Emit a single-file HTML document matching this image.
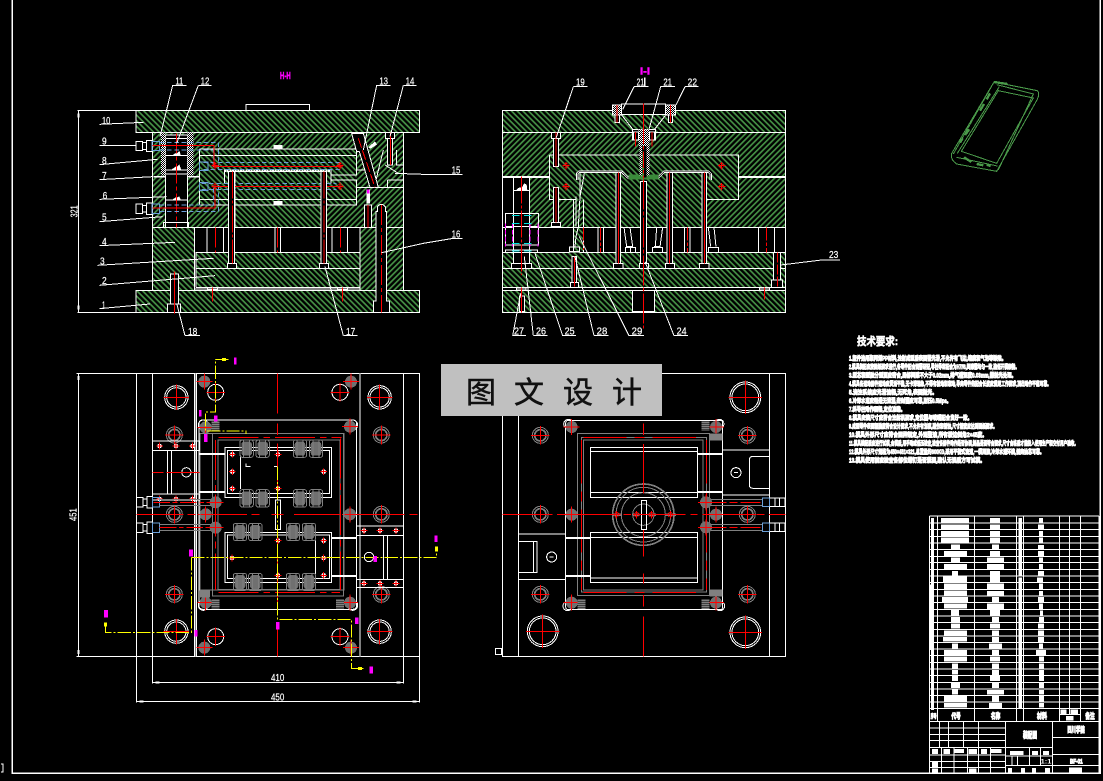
<!DOCTYPE html>
<html><head><meta charset="utf-8"><style>
html,body{margin:0;padding:0;background:#000}
svg{display:block}
.l{fill:none;stroke:#fff;stroke-width:3}
.g{fill:none;stroke:#808080;stroke-width:3}
.r{fill:none;stroke:#f00;stroke-width:3}
.rd{fill:none;stroke:#f00;stroke-width:3;stroke-dasharray:60 9 12 9}
.b{fill:none;stroke:#6a9fd8;stroke-width:3}
.bd{fill:none;stroke:#6a9fd8;stroke-width:3;stroke-dasharray:14 8}
.y{fill:none;stroke:#ff0;stroke-width:3;stroke-dasharray:40 6 6 6}
.k{fill:#000;stroke:#fff;stroke-width:3}
text{font-family:"Liberation Sans","Noto Sans CJK SC",sans-serif}
.t{fill:#fff;font-size:30px;stroke:#fff;stroke-width:.6px}
.m{fill:#f0f;font-size:30px;font-weight:bold;stroke:#f0f;stroke-width:1.5px}
</style></head><body>
<svg width="1103" height="781" viewBox="0 0 1103 781" xmlns="http://www.w3.org/2000/svg" shape-rendering="crispEdges">
<defs>
<pattern id="h1" width="12" height="12" patternUnits="userSpaceOnUse" patternTransform="rotate(45)"><rect width="12" height="12" fill="#000"/><rect width="12" height="5" fill="#469246" shape-rendering="auto"/></pattern>
<pattern id="h2" width="12" height="12" patternUnits="userSpaceOnUse" patternTransform="rotate(-45)"><rect width="12" height="12" fill="#000"/><rect width="12" height="5" fill="#469246" shape-rendering="auto"/></pattern>
<pattern id="md" width="6" height="6" patternUnits="userSpaceOnUse"><rect width="6" height="6" fill="#000"/><rect width="3" height="3" fill="#fff"/><rect x="3" y="3" width="3" height="3" fill="#fff"/></pattern>
<g id="gb"><circle r="18" fill="#707070"/><path class="r" d="M-24 0H24M0-24V24"/></g>
<g id="ob"><circle r="24" fill="none" stroke="#808080" stroke-width="3"/><circle r="17" fill="none" stroke="#808080" stroke-width="5"/><path class="r" d="M-28 0H28M0-28V28"/></g>
<g id="big"><circle r="35" class="l"/><circle r="29" class="l"/><path class="r" d="M-38 0H38M0-38V38"/></g>
<g id="big2"><circle r="46" class="l"/><circle r="40" class="l"/><path class="r" d="M-50 0H50M0-50V50"/></g>
<g id="mid"><circle r="24" class="l"/><path class="r" d="M-28 0H28M0-28V28"/></g>
<g id="sc"><circle r="7" fill="#fff"/><path class="r" d="M-10 0H10M0-10V10"/></g>
<g id="cx"><path class="r" d="M-11 0H11M0-11V11"/><circle r="7" fill="none" stroke="#f00" stroke-width="2"/></g>
<g id="gate"><rect x="-16" y="-21" width="32" height="42" rx="9" fill="#707070"/><rect x="-20" y="-26" width="40" height="52" rx="7" class="g"/><path class="g" d="M-9 -26V26M9 -26V26"/></g>
<g id="noz"><rect x="0" y="0" width="20" height="28" class="k"/><rect x="20" y="4" width="12" height="20" class="k"/><rect x="32" y="-3" width="16" height="34" class="k"/><rect x="48" y="0" width="22" height="28" class="b"/></g>
<g id="stk"><rect x="-12" y="-14" width="24" height="28" fill="#808080"/><path d="M-12-8H12M-12-2H12M-12 4H12M-12 10H12" stroke="#000" stroke-width="2"/></g>
</defs>
<rect width="1103" height="781" fill="#000"/>
<g>
<path d="M12 0V773H1100V0" fill="none" stroke="#fff" stroke-width="1.5"/>
<path d="M1 764h2v8H1" fill="none" stroke="#fff"/>
</g>

<!-- VIEW 1 -->
<g transform="translate(70 70) scale(.33333)">
<rect x="198" y="122" width="851" height="65" fill="url(#h1)"/>
<rect x="198" y="661" width="851" height="66" fill="url(#h1)"/>
<rect x="247" y="187" width="753" height="285" fill="url(#h2)"/>
<rect x="388" y="237" width="472" height="168" fill="url(#h1)"/>
<rect x="495" y="305" width="258" height="167" fill="url(#h1)"/>
<rect x="247" y="472" width="126" height="189" fill="url(#h1)"/>
<rect x="870" y="472" width="130" height="189" fill="url(#h2)"/>
<rect x="378" y="547" width="492" height="48" fill="url(#h1)"/>
<rect x="378" y="595" width="492" height="58" fill="url(#h1)"/>
<path class="l" d="M198 122H1049V187H198ZM198 661H1049V727H198ZM247 187V661M1000 187V661M247 472H1000M373 472V661M378 653V547H870M378 595H870M378 653H870M870 472V661M373 657H870"/>
<path class="l" d="M528 122V104H718V122"/>
<path d="M411 472V547M461 472V547M615 472V547M632 472V547M786 472V547M833 472V547" class="l"/>
<path class="rd" d="M436 472V547M622 472V547M811 472V547"/>
<rect x="412" y="653" width="30" height="7" class="l"/><rect x="802" y="653" width="30" height="7" class="l"/>
<path d="M427 652V695M817 652V695" stroke="#f00" stroke-width="3"/>
<!-- insert -->
<path class="l" d="M388 237H860V315H785M388 257H860M785 330H860V405H495M495 388H860M388 237V405H475M388 388H475M353 320H388"/>
<path d="M462 302H785" stroke="#fff" stroke-width="7" stroke-dasharray="6 2"/>
<path class="l" stroke-width="4" d="M464 305V340M783 305V340"/>
<path class="l" d="M495 305H753M495 305V472M753 305V472"/>
<!-- leader pin -->
<rect x="287" y="195" width="66" height="277" class="k"/>
<path class="l" d="M287 205H353M287 257H353M287 300H353M287 312H353M287 390H353M281 472V457H356V472"/>
<rect x="273" y="187" width="14" height="130" fill="url(#md)"/>
<rect x="353" y="187" width="17" height="130" fill="url(#md)"/>
<path d="M250 320H287M355 320H388" stroke="#fff" stroke-width="5"/>
<path fill="#fff" d="M305 257l12-8 4 1 7-8 5 15ZM305 298l12-8 4 1 7-8 5 15ZM305 390l12-8 4 1 7-4 5 11Z"/>
<rect x="610" y="225" width="27" height="12" fill="#fff"/><rect x="610" y="393" width="27" height="12" fill="#fff"/>
<path class="rd" d="M320 190V472"/>
<!-- cooling -->
<use href="#noz" x="198" y="214"/><use href="#noz" x="198" y="402"/>
<path class="bd" d="M269 217H445V295M269 240H430V295M269 405H430V350M269 425H445V345M400 278H810M400 298H810M395 340H800M395 358H800"/>
<rect x="388" y="276" width="26" height="26" class="b"/><rect x="388" y="337" width="26" height="24" class="b"/>
<path class="r" d="M247 227H432V290H815M247 414H435V349H820"/>
<use href="#cx" x="810" y="287"/><use href="#cx" x="810" y="349"/><use href="#cx" x="435" y="287"/><use href="#cx" x="435" y="349"/>
<!-- pins -->
<rect x="476" y="305" width="18" height="275" class="k"/><rect x="472" y="580" width="28" height="15" class="k"/>
<rect x="753" y="305" width="17" height="275" class="k"/><rect x="748" y="580" width="28" height="15" class="k"/>
<path d="M487 305V580M762 305V580" stroke="#f00" stroke-width="3" stroke-dasharray="80 6 10 6"/>
<!-- bolts -->
<rect x="301" y="612" width="24" height="90" class="k"/><rect x="293" y="702" width="38" height="25" class="k"/>
<path class="r" d="M313 605V730"/>
<rect x="946" y="187" width="28" height="18" class="k"/><rect x="952" y="205" width="16" height="80" class="k"/>
<path class="r" d="M961 187V285"/>
<path class="k" d="M922 425V410Q934 396 946 410V425H950V693H958V727H910V693H918V425Z"/>
<path class="rd" d="M934 405V727"/>
<rect x="883" y="405" width="22" height="67" class="k"/><path class="r" d="M894 405V472"/>
<rect x="889" y="358" width="11" height="42" fill="#fff"/><rect x="891" y="358" width="7" height="13" fill="#f0f"/>
<!-- slide -->
<path class="l" d="M860 300H885M860 352H1000M952 330H1000V352M952 330V352M980 240V285H1000M940 240L918 330M945 285L985 310"/>
<path class="k" d="M845 190H880L925 352H900L868 245H860Z"/>
<path d="M865 205L915 352" stroke="#f00" stroke-width="3" stroke-dasharray="30 8"/>
<path fill="#fff" d="M895 232l20-18 6 10-20 12Z"/>
<!-- labels -->
<g class="l"><path d="M308 46H350M308 46L270 200M385 46H425M385 46L320 220M920 46H962M920 46L880 240M1000 46H1040M1000 46L960 200M975 310L1060 313H1178M935 548L1060 520L1150 505H1178M88 163L220 157M88 226H198M88 284L262 268M88 329L248 320M88 388L290 380M88 455L278 440M88 527L315 517M82 586L430 565M88 646L435 617M88 716L240 702M345 797H390M345 797L320 700M820 797H862M820 797L765 590"/></g>
<text class="t" x="316" y="44" textLength="24" lengthAdjust="spacingAndGlyphs">11</text>
<text class="t" x="392" y="44" textLength="26" lengthAdjust="spacingAndGlyphs">12</text>
<text class="t" x="928" y="44" textLength="26" lengthAdjust="spacingAndGlyphs">13</text>
<text class="t" x="1007" y="44" textLength="26" lengthAdjust="spacingAndGlyphs">14</text>
<text class="t" x="1145" y="310" textLength="26" lengthAdjust="spacingAndGlyphs">15</text>
<text class="t" x="1145" y="503" textLength="26" lengthAdjust="spacingAndGlyphs">16</text>
<text class="t" x="96" y="162" textLength="25" lengthAdjust="spacingAndGlyphs">10</text>
<text class="t" x="96" y="224" textLength="14" lengthAdjust="spacingAndGlyphs">9</text>
<text class="t" x="96" y="282" textLength="14" lengthAdjust="spacingAndGlyphs">8</text>
<text class="t" x="96" y="327" textLength="14" lengthAdjust="spacingAndGlyphs">7</text>
<text class="t" x="98" y="387" textLength="14" lengthAdjust="spacingAndGlyphs">6</text>
<text class="t" x="96" y="452" textLength="14" lengthAdjust="spacingAndGlyphs">5</text>
<text class="t" x="96" y="525" textLength="14" lengthAdjust="spacingAndGlyphs">4</text>
<text class="t" x="90" y="584" textLength="14" lengthAdjust="spacingAndGlyphs">3</text>
<text class="t" x="96" y="642" textLength="14" lengthAdjust="spacingAndGlyphs">2</text>
<text class="t" x="96" y="715" textLength="10" lengthAdjust="spacingAndGlyphs">1</text>
<text class="t" x="354" y="795" textLength="28" lengthAdjust="spacingAndGlyphs">18</text>
<text class="t" x="828" y="795" textLength="28" lengthAdjust="spacingAndGlyphs">17</text>
<text class="m" x="630" y="27" textLength="32" lengthAdjust="spacingAndGlyphs">H-H</text>
<path class="l" d="M23 122H198M23 727H198M25 122V727"/>
<rect x="22" y="131" width="7" height="12" fill="#fff"/><rect x="22" y="707" width="7" height="12" fill="#fff"/>
<text class="t" transform="translate(23 442) rotate(-90)" textLength="36" lengthAdjust="spacingAndGlyphs">321</text>
</g>

<!-- VIEW 2 -->
<g transform="translate(490 60) scale(.33333)">
<rect x="38" y="152" width="849" height="65" fill="url(#h1)"/>
<rect x="38" y="217" width="849" height="135" fill="url(#h2)"/>
<rect x="118" y="352" width="769" height="150" fill="url(#h2)"/>
<rect x="178" y="285" width="568" height="133" fill="url(#h1)"/>
<rect x="280" y="338" width="370" height="164" fill="url(#h1)"/>
<rect x="38" y="577" width="849" height="48" fill="url(#h1)"/>
<rect x="38" y="625" width="849" height="58" fill="url(#h1)"/>
<rect x="38" y="691" width="849" height="66" fill="url(#h1)"/>
<rect x="250" y="502" width="30" height="90" fill="url(#h1)"/>
<path class="l" d="M38 152H887V757H38ZM38 217H887M178 285H746V418H650M178 285V418H260M38 502H887M38 577H887M38 625H887M38 683H887M38 691H887"/>
<path d="M38 351H178M746 351H887" stroke="#fff" stroke-width="5"/>
<rect x="427" y="692" width="67" height="63" class="k"/>
<path class="l" d="M650 418V502M280 418V502M250 418V577"/>
<!-- part outline -->
<path fill="none" stroke="#fff" stroke-width="7" d="M262 360V340L268 335H395L413 352H505L522 335H655L662 342V360"/>
<path fill="none" stroke="#000" stroke-width="2" d="M262 360V340L268 335H395L413 352H505L522 335H655L662 342V360"/>
<path class="l" d="M283 340L270 410L265 500L258 530L255 560M270 340V410M258 410V500"/>
<rect x="416" y="344" width="90" height="14" fill="#3a8a3a"/>
<!-- pins -->
<g class="k">
<rect x="378" y="338" width="14" height="274"/><rect x="371" y="610" width="28" height="15"/>
<rect x="531" y="338" width="17" height="274"/><rect x="526" y="610" width="28" height="15"/>
<rect x="636" y="338" width="14" height="274"/><rect x="629" y="610" width="28" height="15"/>
<rect x="452" y="365" width="18" height="247"/><rect x="448" y="610" width="28" height="15"/>
</g>
<path d="M385 338V610M539 338V610M643 338V610" stroke="#f00" stroke-width="3"/>
<path d="M460 130V805" stroke="#f00" stroke-width="3" stroke-dasharray="90 6 12 6"/>
<!-- sprue -->
<path class="l" d="M395 165L430 210M527 165L492 210"/>
<rect x="395" y="132" width="132" height="31" class="k"/>
<rect x="368" y="135" width="27" height="30" fill="url(#md)" stroke="#fff" stroke-width="3"/>
<rect x="527" y="135" width="30" height="30" fill="url(#md)" stroke="#fff" stroke-width="3"/>
<rect x="375" y="165" width="13" height="23" class="k"/><rect x="535" y="165" width="13" height="23" class="k"/>
<path class="r" d="M381 135V188M541 135V188"/>
<rect x="428" y="208" width="69" height="32" fill="#000" stroke="#fff" stroke-width="3"/>
<rect x="446" y="208" width="32" height="50" fill="url(#md)"/>
<rect x="430" y="216" width="16" height="24" class="l"/><rect x="478" y="216" width="16" height="24" class="l"/>
<path class="r" d="M436 216V260M486 216V260"/>
<rect x="448" y="258" width="8" height="88" fill="url(#md)"/><rect x="470" y="258" width="8" height="88" fill="url(#md)"/>
<rect x="457" y="258" width="12" height="95" fill="#000"/>
<path d="M460 280V355" stroke="#3a8a3a" stroke-width="5"/>
<path d="M460 130V355" stroke="#f00" stroke-width="3" stroke-dasharray="50 6 10 6"/>
<!-- left pin -->
<rect x="70" y="352" width="48" height="258" class="k"/><path class="l" d="M70 391H118"/><rect x="64" y="610" width="60" height="15" class="k"/>
<path fill="#fff" d="M78 390l10-8 8 0 6-12 8 4 2 16Z"/>
<path class="l" d="M46 460H145V555H46ZM46 500H145M46 570H143V578H46Z"/>
<path d="M46 490V560M68 490V560M120 490V560M144 490V560" fill="none" stroke="#f0f" stroke-width="3" stroke-dasharray="14 6"/>
<path d="M66 466H88M102 466H124M66 490H88M102 490H124M66 550H88M102 550H124M66 573H88M102 573H124" stroke="#00e0e0" stroke-width="3"/>
<path d="M94 350V645" stroke="#f00" stroke-width="3" stroke-dasharray="80 6 10 6"/>
<!-- bolts -->
<rect x="184" y="218" width="28" height="17" class="k"/><rect x="190" y="235" width="16" height="85" class="k"/>
<rect x="190" y="382" width="16" height="105" class="k"/><rect x="184" y="487" width="28" height="13" class="k"/>
<path class="r" d="M198 218V320M198 382V487"/>
<use href="#cx" x="228" y="317"/><use href="#cx" x="228" y="380"/><use href="#cx" x="695" y="317"/><use href="#cx" x="695" y="380"/>
<!-- supports -->
<path class="l" d="M280 502V577M324 502V577M340 502V577M583 502V577M600 502V577M805 502V577M853 502V577M402 502L410 560H428L420 502M422 562V577M518 502L510 560H492M500 502L496 560M406 562H436V577H406ZM488 562H518V577H488ZM655 502L662 560M672 502L678 560M656 562H686V577H656Z"/>
<path d="M280 502V570M331 502V577M592 502V577M829 502V577" stroke="#f00" stroke-width="3" stroke-dasharray="40 6 10 6"/>
<rect x="238" y="561" width="30" height="14" class="l"/>
<rect x="238" y="577" width="30" height="48" fill="url(#h1)"/>
<rect x="246" y="590" width="14" height="78" class="k"/><rect x="241" y="667" width="24" height="16" class="k"/>
<path class="r" d="M253 590V680"/>
<rect x="851" y="578" width="21" height="82" class="k"/><rect x="844" y="660" width="34" height="22" class="k"/>
<path d="M862 578V682" stroke="#f00" stroke-width="3" stroke-dasharray="30 6"/>
<rect x="80" y="684" width="28" height="6" class="l"/><rect x="808" y="684" width="30" height="6" class="l"/>
<rect x="88" y="708" width="16" height="47" class="k"/><path class="r" d="M94 683V757M823 683V719"/>
<g class="l"><path d="M250 80H293M250 80L198 235M432 80H476M432 80L398 148M512 80H555M512 80L478 205M585 80H625M585 80L558 135M872 615L995 600H1050M68 827H108M68 827L92 700M130 827H172M130 827L103 590M218 827H258M218 827L135 580M312 827H355M312 827L255 590M417 827H462M417 827L268 530M552 827H594M552 827L465 605"/></g>
<path d="M464 52V80" stroke="#fff" stroke-width="5"/>
<text class="t" x="258" y="76" textLength="26" lengthAdjust="spacingAndGlyphs">19</text>
<text class="t" x="440" y="76" textLength="22" lengthAdjust="spacingAndGlyphs">21</text>
<text class="t" x="520" y="76" textLength="26" lengthAdjust="spacingAndGlyphs">21</text>
<text class="t" x="593" y="76" textLength="28" lengthAdjust="spacingAndGlyphs">22</text>
<text class="t" x="1017" y="594" textLength="28" lengthAdjust="spacingAndGlyphs">23</text>
<text class="t" x="72" y="823" textLength="30" lengthAdjust="spacingAndGlyphs">27</text>
<text class="t" x="138" y="823" textLength="30" lengthAdjust="spacingAndGlyphs">26</text>
<text class="t" x="224" y="823" textLength="30" lengthAdjust="spacingAndGlyphs">25</text>
<text class="t" x="320" y="823" textLength="32" lengthAdjust="spacingAndGlyphs">28</text>
<text class="t" x="425" y="823" textLength="32" lengthAdjust="spacingAndGlyphs">29</text>
<text class="t" x="560" y="823" textLength="30" lengthAdjust="spacingAndGlyphs">24</text>
<text class="m" x="450" y="44" textLength="30" lengthAdjust="spacingAndGlyphs">I-I</text>
</g>

<!-- VIEW 3 -->
<g transform="translate(70 350) scale(.33333)">
<path class="l" d="M20 70H1049V919H20M199 70V1058M1049 70V1058M247 70V1000M1000 70V1000M373 70V919M380 70V919"/>
<path d="M376 70V919" stroke="#808080" stroke-width="3"/><path d="M870 70V919" stroke="#808080" stroke-width="6"/>
<use href="#big" x="319" y="142"/><use href="#big" x="929" y="142"/><use href="#big" x="319" y="845"/><use href="#big" x="929" y="845"/>
<use href="#mid" x="437" y="127"/><use href="#mid" x="810" y="127"/><use href="#mid" x="437" y="860"/><use href="#mid" x="810" y="860"/>
<use href="#gb" x="403" y="95"/><use href="#gb" x="843" y="95"/><use href="#gb" x="403" y="893"/><use href="#gb" x="843" y="893"/>
<use href="#ob" x="313" y="255"/><use href="#ob" x="934" y="255"/><use href="#ob" x="313" y="493"/><use href="#ob" x="934" y="493"/><use href="#ob" x="313" y="733"/><use href="#ob" x="934" y="733"/>
<path class="l" d="M387 222Q387 210 399 210H848Q860 210 860 222V766Q860 778 848 778H399Q387 778 387 766Z"/>
<circle cx="400" cy="225" r="15" class="l"/><circle cx="848" cy="225" r="15" class="l"/><circle cx="400" cy="766" r="15" class="l"/><circle cx="848" cy="766" r="15" class="l"/>
<use href="#gb" x="407" y="232"/><use href="#gb" x="840" y="230"/><use href="#gb" x="407" y="758"/><use href="#gb" x="840" y="758"/><use href="#gb" x="407" y="493"/><use href="#gb" x="840" y="493"/>
<rect x="390" y="250" width="432" height="470" class="g"/><rect x="428" y="250" width="392" height="488" class="g" /><rect x="444" y="270" width="366" height="448" class="g"/>
<use href="#stk" x="436" y="228"/><use href="#stk" x="436" y="762"/><use href="#stk" x="810" y="762"/>
<rect x="390" y="718" width="30" height="24" fill="#808080"/>
<path d="M445 262H815M445 727H810M812 265V720M436 270V720" stroke="#f00" stroke-width="3" stroke-dasharray="120 15 20 15"/>
<!-- windows -->
<rect x="465" y="293" width="320" height="150" class="l"/><rect x="472" y="302" width="306" height="128" class="l"/><rect x="465" y="548" width="320" height="150" class="l"/><rect x="472" y="555" width="306" height="130" class="l"/>
<path stroke="#fff" stroke-width="5" d="M388 312H465M388 426H465M785 564H860M785 678H860"/>
<path class="l" d="M247 273H388V302H247M247 432H388V450H247M292 302V432M304 302V432M247 273V450M860 528H1000V557H860M860 688H1000V712H860M940 557V688M953 557V688"/>
<path class="l" d="M511 317V417M737 572V672M528 340V350H542M612 350H623V365"/>
<circle cx="349" cy="367" r="14" class="l"/><circle cx="897" cy="621" r="14" class="l"/>
<path class="r" d="M247 367H280M290 367H388"/>
<use href="#sc" x="269" y="288"/><use href="#sc" x="318" y="288"/><use href="#sc" x="367" y="288"/><use href="#sc" x="269" y="447"/><use href="#sc" x="318" y="447"/><use href="#sc" x="367" y="447"/>
<use href="#sc" x="882" y="542"/><use href="#sc" x="930" y="542"/><use href="#sc" x="978" y="542"/><use href="#sc" x="882" y="700"/><use href="#sc" x="930" y="700"/><use href="#sc" x="978" y="700"/>
<use href="#sc" x="487" y="313"/><use href="#sc" x="487" y="365"/><use href="#sc" x="487" y="416"/><use href="#sc" x="624" y="313"/><use href="#sc" x="624" y="416"/><use href="#sc" x="761" y="365"/>
<use href="#sc" x="486" y="624"/><use href="#sc" x="624" y="572"/><use href="#sc" x="624" y="676"/><use href="#sc" x="761" y="572"/><use href="#sc" x="761" y="624"/><use href="#sc" x="761" y="676"/>
<!-- gates -->
<use href="#gate" x="530" y="296"/><use href="#gate" x="578" y="296"/><use href="#gate" x="690" y="296"/><use href="#gate" x="738" y="296"/>
<use href="#gate" x="530" y="445"/><use href="#gate" x="578" y="445"/><use href="#gate" x="690" y="445"/><use href="#gate" x="738" y="445"/>
<use href="#gate" x="510" y="546"/><use href="#gate" x="556" y="546"/><use href="#gate" x="669" y="546"/><use href="#gate" x="717" y="546"/>
<use href="#gate" x="510" y="696"/><use href="#gate" x="556" y="696"/><use href="#gate" x="669" y="696"/><use href="#gate" x="717" y="696"/>
<rect x="616" y="450" width="16" height="88" class="l"/>
<!-- cooling -->
<use href="#noz" x="199" y="443"/><use href="#noz" x="199" y="519"/>
<path class="g" d="M269 448H432M269 466H432M269 523H432M269 541H432"/>
<path d="M250 457H430M269 533H430" stroke="#f00" stroke-width="3" stroke-dasharray="50 8 14 8"/>
<use href="#gb" x="437" y="457"/><use href="#gb" x="437" y="533"/>
<path d="M199 493H575M672 493H1049" stroke="#f00" stroke-width="3" stroke-dasharray="140 14 24 14"/>
<path d="M605 493H640" stroke="#f00" stroke-width="3"/>
<path d="M622 70V190M622 220V255M622 280V440M622 560V770M622 820V919" stroke="#f00" stroke-width="3"/>
<!-- yellow section -->
<path class="y" d="M476 28H437V186H406V243H528V252"/>
<path class="y" d="M364 622H1100V600M364 622V847H106V820"/>
<path class="y" d="M622 350V808H845V955H880"/>
<rect x="456" y="24" width="12" height="9" fill="#ff0"/><rect x="864" y="951" width="12" height="9" fill="#ff0"/><rect x="1095" y="590" width="9" height="14" fill="#ff0"/><rect x="102" y="817" width="9" height="12" fill="#ff0"/>
<g fill="#f0f"><rect x="492" y="22" width="8" height="22"/><rect x="387" y="180" width="8" height="20"/><rect x="432" y="197" width="10" height="18"/><rect x="402" y="252" width="10" height="24"/><rect x="357" y="598" width="12" height="22"/><rect x="1093" y="556" width="10" height="20"/><rect x="911" y="618" width="10" height="18"/><rect x="102" y="780" width="12" height="22"/><rect x="373" y="840" width="10" height="20"/><rect x="618" y="816" width="11" height="22"/><rect x="855" y="802" width="10" height="20"/><rect x="898" y="950" width="11" height="20"/></g>
<!-- dims -->
<path class="l" d="M25 70V919M247 997H1000M199 1054H1049"/>
<rect x="22" y="78" width="7" height="12" fill="#fff"/><rect x="22" y="900" width="7" height="12" fill="#fff"/><rect x="256" y="994" width="12" height="6" fill="#fff"/><rect x="980" y="994" width="12" height="6" fill="#fff"/><rect x="208" y="1051" width="12" height="6" fill="#fff"/><rect x="1028" y="1051" width="12" height="6" fill="#fff"/>
<text class="t" x="603" y="993" textLength="40" lengthAdjust="spacingAndGlyphs">410</text>
<text class="t" x="603" y="1052" textLength="40" lengthAdjust="spacingAndGlyphs">450</text>
<text class="t" transform="translate(20 513) rotate(-90)" textLength="38" lengthAdjust="spacingAndGlyphs">451</text>
</g>

<!-- VIEW 4 -->
<g transform="translate(440 360) scale(.33333)">
<path class="l" d="M187 40H1037V889H187ZM235 40V889M988 40V889"/>
<rect x="166" y="866" width="19" height="18" class="l"/>
<use href="#big2" x="916" y="112"/><use href="#big2" x="308" y="814"/><use href="#big2" x="916" y="817"/>
<use href="#ob" x="301" y="226"/><use href="#ob" x="922" y="226"/><use href="#ob" x="301" y="463"/><use href="#ob" x="922" y="463"/><use href="#ob" x="301" y="703"/><use href="#ob" x="922" y="703"/>
<path class="l" d="M377 190Q377 181 386 181H840Q848 181 848 190V740Q848 749 840 749H386Q377 749 377 740Z"/>
<circle cx="385" cy="192" r="14" class="l"/><circle cx="838" cy="192" r="14" class="l"/><circle cx="383" cy="738" r="14" class="l"/><circle cx="840" cy="738" r="14" class="l"/>
<use href="#gb" x="395" y="201"/><use href="#gb" x="828" y="201"/><use href="#gb" x="395" y="728"/><use href="#gb" x="828" y="728"/><use href="#gb" x="395" y="464"/><use href="#gb" x="828" y="464"/>
<rect x="413" y="220" width="395" height="487" class="g"/><rect x="425" y="232" width="375" height="464" class="g"/><rect x="431" y="240" width="358" height="450" class="g"/>
<use href="#stk" x="797" y="198"/><use href="#stk" x="424" y="733"/><use href="#stk" x="797" y="733"/>
<rect x="808" y="220" width="40" height="22" fill="#808080"/><rect x="808" y="688" width="40" height="22" fill="#808080"/>
<path d="M430 232H790M430 697H790M800 240V690M424 240V690" stroke="#f00" stroke-width="3" stroke-dasharray="130 24 30 24"/>
<rect x="451" y="262" width="322" height="150" class="k"/><path class="l" d="M451 275H773M451 397H773"/>
<rect x="451" y="517" width="322" height="150" class="k"/><path class="l" d="M451 532H773M451 654H773"/>
<path stroke="#fff" stroke-width="5" d="M773 282H848M773 396H848M377 534H451M377 648H451"/>
<path class="l" d="M848 270H988M848 405H988M988 289H940Q928 289 928 300V375Q928 385 940 385H988M235 522H377M235 659H377M235 544H291V637H235M280 544V637"/>
<circle cx="888" cy="338" r="15" class="l"/><circle cx="335" cy="591" r="15" class="l"/>
<path class="l" d="M882 338h12M329 591h12"/>
<g fill="none" stroke="#808080" stroke-width="3"><circle cx="610" cy="464" r="92" stroke-width="5"/><circle cx="610" cy="464" r="82"/><circle cx="610" cy="464" r="66"/><circle cx="610" cy="464" r="32"/></g>
<rect x="604" y="421" width="16" height="88" class="l"/>
<g stroke="#808080" stroke-width="8"><path d="M517 464H546M675 464H708M578 464H598M625 464H648"/></g>
<use href="#cx" x="530" y="464"/><use href="#cx" x="590" y="464"/><use href="#cx" x="634" y="464"/><use href="#cx" x="691" y="464"/>
<path d="M187 463H1037" stroke="#f00" stroke-width="3" stroke-dasharray="150 14 22 14"/>
<path d="M610 190V225M610 252V400M610 510V590M610 640V670M610 705V740M610 770V889" stroke="#f00" stroke-width="3"/>
<path class="g" d="M800 418H967M800 436H967M800 493H967M800 511H967"/>
<path d="M800 427H967M800 502H967" stroke="#f00" stroke-width="3" stroke-dasharray="60 9 24 9"/>
<use href="#gb" x="798" y="427"/><use href="#gb" x="798" y="502"/>
<rect x="968" y="414" width="20" height="26" class="b"/><rect x="968" y="489" width="20" height="26" class="b"/>
<path class="l" d="M988 414H1005V440H988M1005 414H1035V440H1005M1018 414V440M988 489H1005V515H988M1005 489H1035V515H1005M1018 489V515"/>
</g>

<!-- watermark -->
<rect x="441" y="364" width="221" height="52" fill="#c0c0c0"/>
<g font-size="30" fill="#111" stroke="#111" stroke-width=".5" style="font-family:'Liberation Serif','Noto Serif CJK SC',serif">
<text x="466" y="403">图</text><text x="514" y="403">文</text><text x="563" y="403">设</text><text x="612" y="403">计</text>
</g>

<!-- phone -->
<g transform="translate(930 70) scale(.33333)" fill="none" stroke="#4a9a4a" stroke-width="3">
<path d="M192 36L322 62Q330 70 322 88L200 304L80 282Q62 270 64 252Z" />
<path d="M205 62L310 84L200 280L94 244Z" />
<path d="M200 44L310 72L205 300M192 36L70 252M208 50L82 250M80 262L202 288"/>
<path stroke-width="7" d="M192 36L232 42M180 70L170 88M162 102L150 122M118 178L105 195M102 262L124 276M140 282L160 286M170 284L182 288M90 218L98 205"/>
</g>

<!-- tech -->
<text x="857" y="345" font-size="11" font-weight="bold" fill="#fff" stroke="#fff" stroke-width=".6" textLength="41" lengthAdjust="spacingAndGlyphs">技术要求:</text>
<g font-size="6" font-weight="bold" fill="#fff" stroke="#fff" stroke-width=".9">
<text x="849" y="360.5" textLength="157" lengthAdjust="spacingAndGlyphs">1.塑件选用聚丙烯PP材料,注射成型后表面需光滑,不允许有飞边,缩痕和气泡等缺陷。</text>
<text x="849" y="369" textLength="170" lengthAdjust="spacingAndGlyphs">2.模具装配应按图纸要求进行,各零件配合面需研配,导柱导套配合为H7/f6,间隙需均匀一致,确保开模顺畅。</text>
<text x="849" y="377.5" textLength="167" lengthAdjust="spacingAndGlyphs">3.型芯和型腔分型面应密合,局部间隙不大于0.02mm,排气槽深度0.03mm,需抛光处理。</text>
<text x="849" y="386" textLength="202" lengthAdjust="spacingAndGlyphs">4.模具各运动部件运动应灵活平稳,无卡滞现象,不得有松动和窜动,导向零件的配合长度应满足工作要求,顶出动作平稳可靠。</text>
<text x="849" y="394.5" textLength="88" lengthAdjust="spacingAndGlyphs">5.浇注系统应光滑流畅,无死角,表面抛光。</text>
<text x="849" y="403" textLength="102" lengthAdjust="spacingAndGlyphs">6.冷却水道应畅通无泄漏,密封圈应可靠,耐压0.5Mpa。</text>
<text x="849" y="411.5" textLength="56" lengthAdjust="spacingAndGlyphs">7.斜导柱动作顺畅,定位准确。</text>
<text x="849" y="420" textLength="123" lengthAdjust="spacingAndGlyphs">8.模具安装尺寸应符合注射机要求,定位圈与喷嘴配合良好一致。</text>
<text x="849" y="428.5" textLength="148" lengthAdjust="spacingAndGlyphs">9.成型零件表面粗糙度符合设计要求,不允许有划痕,碰伤和锈蚀,尺寸精度应达到图纸要求。</text>
<text x="849" y="437" textLength="138" lengthAdjust="spacingAndGlyphs">10.模具外形尺寸应符合图样规定,外观整洁,所有棱边倒角2×45度。</text>
<text x="849" y="445.5" textLength="229" lengthAdjust="spacingAndGlyphs">11.模具装配后应进行试模,合模后,用手动或低压检查,检查各部件动作是否协调,制品是否符合要求,尺寸合格后才能投入使用生产和交付用户验收。</text>
<text x="849" y="454" textLength="195" lengthAdjust="spacingAndGlyphs">12.模具外形尺寸规格为450×451×321,总重量约600KG,采用平衡式流道,一模两腔,冷却水道环绕,侧向抽芯可靠。</text>
<text x="849" y="462.5" textLength="136" lengthAdjust="spacingAndGlyphs">13.模具使用前应检查各部位螺钉是否紧固,确认无误后方可试模。</text>
</g>

<!-- title table -->
<g transform="translate(920 510) scale(.33333)">
<g fill="#fff">
<rect x="63" y="24" width="84" height="16"/><rect x="63" y="44" width="84" height="14"/><rect x="63" y="63" width="84" height="16"/><rect x="63" y="83" width="84" height="16"/><rect x="93" y="103" width="27" height="15"/><rect x="72" y="123" width="69" height="15"/><rect x="93" y="143" width="27" height="14"/><rect x="72" y="162" width="69" height="16"/><rect x="96" y="183" width="18" height="15"/><rect x="69" y="200" width="72" height="18"/><rect x="72" y="221" width="69" height="16"/><rect x="72" y="241" width="69" height="16"/><rect x="66" y="261" width="78" height="16"/><rect x="72" y="281" width="69" height="14"/><rect x="93" y="300" width="24" height="16"/><rect x="93" y="321" width="27" height="15"/><rect x="93" y="341" width="27" height="14"/><rect x="72" y="361" width="69" height="16"/><rect x="69" y="381" width="72" height="13"/><rect x="96" y="400" width="18" height="15"/><rect x="72" y="420" width="69" height="16"/><rect x="72" y="440" width="69" height="15"/><rect x="96" y="460" width="18" height="15"/><rect x="96" y="480" width="18" height="13"/><rect x="96" y="497" width="18" height="16"/><rect x="93" y="519" width="27" height="15"/><rect x="96" y="538" width="18" height="15"/><rect x="72" y="558" width="69" height="16"/><rect x="72" y="579" width="69" height="13"/>
<rect x="210" y="24" width="30" height="16"/><rect x="210" y="44" width="30" height="14"/><rect x="210" y="63" width="30" height="16"/><rect x="210" y="83" width="30" height="16"/><rect x="216" y="103" width="21" height="15"/><rect x="210" y="123" width="30" height="15"/><rect x="201" y="143" width="51" height="14"/><rect x="201" y="162" width="51" height="16"/><rect x="210" y="183" width="30" height="15"/><rect x="210" y="200" width="30" height="18"/><rect x="201" y="221" width="51" height="16"/><rect x="201" y="243" width="51" height="14"/><rect x="216" y="261" width="21" height="16"/><rect x="201" y="281" width="51" height="16"/><rect x="210" y="300" width="30" height="16"/><rect x="216" y="321" width="21" height="15"/><rect x="210" y="341" width="30" height="14"/><rect x="216" y="361" width="21" height="16"/><rect x="216" y="381" width="21" height="15"/><rect x="207" y="400" width="39" height="15"/><rect x="216" y="420" width="21" height="16"/><rect x="210" y="440" width="30" height="15"/><rect x="216" y="460" width="21" height="15"/><rect x="216" y="480" width="21" height="15"/><rect x="210" y="497" width="30" height="16"/><rect x="216" y="519" width="21" height="15"/><rect x="201" y="540" width="51" height="13"/><rect x="216" y="558" width="21" height="16"/><rect x="207" y="579" width="39" height="15"/>
<rect x="357" y="24" width="12" height="16"/><rect x="354" y="44" width="18" height="14"/><rect x="357" y="63" width="12" height="16"/><rect x="357" y="83" width="12" height="16"/><rect x="354" y="105" width="18" height="13"/><rect x="354" y="123" width="18" height="15"/><rect x="357" y="143" width="12" height="14"/><rect x="357" y="162" width="12" height="16"/><rect x="354" y="183" width="18" height="15"/><rect x="351" y="203" width="18" height="15"/><rect x="357" y="221" width="12" height="16"/><rect x="357" y="243" width="12" height="14"/><rect x="354" y="261" width="18" height="16"/><rect x="357" y="281" width="12" height="16"/><rect x="360" y="302" width="9" height="14"/><rect x="357" y="321" width="15" height="15"/><rect x="354" y="341" width="18" height="14"/><rect x="354" y="361" width="18" height="16"/><rect x="354" y="381" width="18" height="15"/><rect x="357" y="400" width="12" height="15"/><rect x="348" y="420" width="30" height="16"/><rect x="357" y="440" width="15" height="15"/><rect x="357" y="460" width="15" height="15"/><rect x="357" y="480" width="15" height="15"/><rect x="357" y="497" width="15" height="16"/><rect x="357" y="519" width="15" height="15"/><rect x="357" y="540" width="15" height="13"/><rect x="357" y="558" width="15" height="16"/><rect x="357" y="579" width="15" height="13"/>
<path d="M296 24h10v174h-10ZM296 203h10v394h-10ZM33 24h9v120h-9ZM33 144h9v80h-9ZM30 224h12v196h-12ZM33 420h9v180h-9Z"/>
</g>
<g stroke="#fff" stroke-width="3" fill="none">
<path d="M28 18H537M28 39H537M28 59H537M28 79H537M28 99H537M28 119H537M28 139H537M28 158H537M28 178H537M28 198H537M28 218H537M28 238H537M28 258H537M28 278H537M28 298H537M28 318H537M28 338H537M28 358H537M28 378H537M28 397H537M28 417H537M28 437H537M28 457H537M28 477H537M28 497H537M28 517H537M28 537H537M28 557H537M28 576H537M28 596H537M28 634H537"/>
<path d="M28 18V790M52 18V634M163 18V634M290 18V634M310 18V634M418 18V634M449 18V596M482 18V634M537 18V790"/>
<path d="M28 654H257M28 673H257M28 692H257M28 712H257M28 735H257M28 754H257M28 772H257M58 634V712M86 634V712M130 634V712M176 634V712M65 712V790M102 712V790M142 712V790M176 712V790M212 712V790M257 634V790M397 634V790M257 712H397M257 738H397M257 767H397M397 683H537M397 733H537M397 767H537M328 712V767M362 712V767M276 738V767M293 738V767"/>
<path d="M418 614H482M449 596V614"/>
</g>
<g fill="#fff">
<rect x="422" y="598" width="18" height="14"/><rect x="452" y="598" width="22" height="14"/><rect x="438" y="618" width="22" height="14"/>
<rect x="36" y="717" width="18" height="15"/><rect x="70" y="717" width="20" height="15"/><rect x="102" y="717" width="30" height="12"/><rect x="145" y="717" width="26" height="15"/><rect x="183" y="717" width="18" height="15"/><rect x="213" y="717" width="32" height="12"/><rect x="36" y="756" width="18" height="15"/><rect x="36" y="776" width="18" height="13"/><rect x="147" y="776" width="22" height="13"/>
<rect x="270" y="723" width="40" height="12"/><rect x="336" y="723" width="18" height="12"/><rect x="369" y="723" width="18" height="12"/><rect x="264" y="774" width="12" height="15"/><rect x="303" y="774" width="12" height="15"/><rect x="336" y="774" width="12" height="15"/><rect x="375" y="774" width="15" height="15"/><rect x="447" y="773" width="39" height="16"/>
</g>
<g fill="#fff" stroke="#fff" stroke-width="3" font-weight="bold">
<text x="32" y="625" font-size="18" textLength="18" lengthAdjust="spacingAndGlyphs">序号</text>
<text x="94" y="625" font-size="22" textLength="28" lengthAdjust="spacingAndGlyphs">代号</text>
<text x="213" y="625" font-size="22" textLength="28" lengthAdjust="spacingAndGlyphs">名称</text>
<text x="351" y="625" font-size="22" textLength="30" lengthAdjust="spacingAndGlyphs">材料</text>
<text x="496" y="625" font-size="22" textLength="28" lengthAdjust="spacingAndGlyphs">备注</text>
<text x="309" y="684" font-size="26" textLength="42" lengthAdjust="spacingAndGlyphs">装配图</text>
<text x="442" y="668" font-size="24" textLength="52" lengthAdjust="spacingAndGlyphs">四川学院</text>
<text x="450" y="760" font-size="20" textLength="38" lengthAdjust="spacingAndGlyphs">BF-01</text>
</g>
<text x="362" y="761" font-size="20" fill="#fff" font-weight="bold" textLength="32" lengthAdjust="spacingAndGlyphs">1:1</text>
</g>
</svg>
</body></html>
